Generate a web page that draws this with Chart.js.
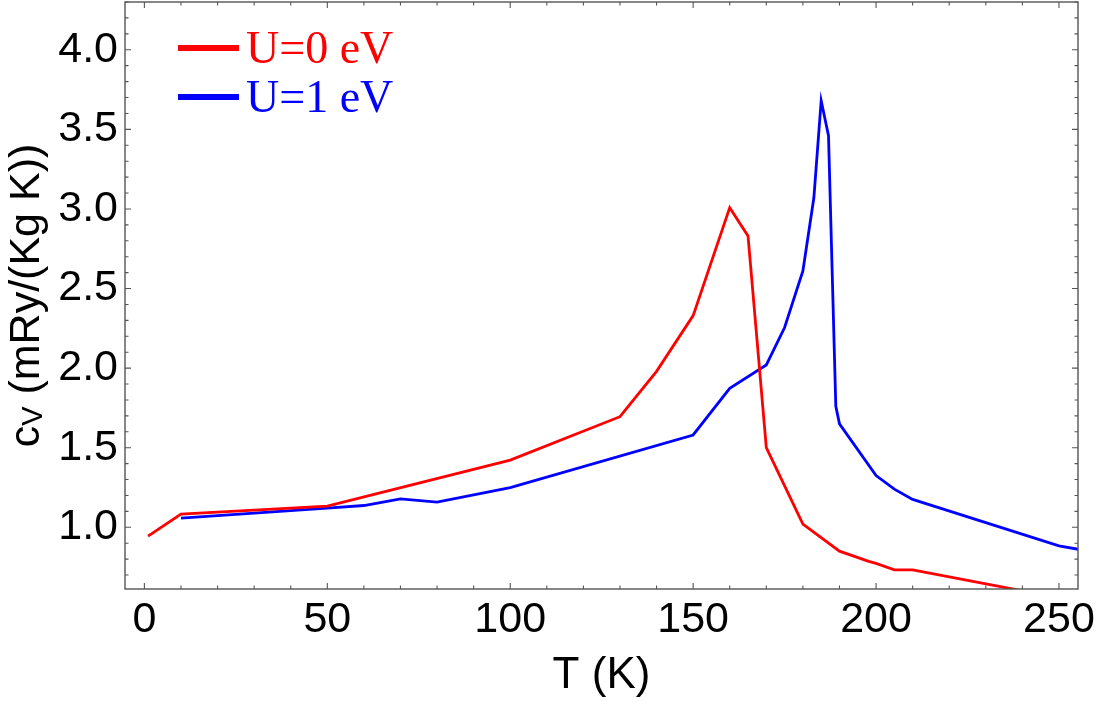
<!DOCTYPE html>
<html>
<head>
<meta charset="utf-8">
<script src="https://cdn.jsdelivr.net/npm/chart.js@4.4.1/dist/chart.umd.min.js"></script>
<style>
  html, body { margin: 0; padding: 0; background: #fff; }
  #wrap { width: 1097px; height: 702px; }
</style>
</head>
<body>
<div id="wrap"><canvas id="myChart"></canvas></div>
<script>
// U = 0 eV
const tempU0 = [1, 10, 50, 100, 130, 140, 150, 160, 165, 170, 180, 190, 198, 200, 205, 210, 250];
const cvU0 = [0.945, 1.083, 1.133, 1.422, 1.695, 1.98, 2.33, 3.008, 2.83, 1.50, 1.02, 0.85, 0.786, 0.773, 0.733, 0.733, 0.557];

// U = 1 eV
const tempU1 = [10, 50, 60, 70, 80, 100, 150, 160, 170, 175, 180, 183, 185, 187, 189, 190, 200, 205, 210, 250, 260];
const cvU1 = [1.058, 1.12, 1.137, 1.178, 1.158, 1.25, 1.58, 1.873, 2.02, 2.255, 2.61, 3.07, 3.68, 3.46, 1.76, 1.65, 1.325, 1.24, 1.175, 0.883, 0.843];

const seriesLabels = ["U=0 eV", "U=1 eV"];
const seriesColors = ["#ff0000", "#0000ff"];

const xMajor = 50, xMinor = 10;
const yMajor = 0.5, yMinor = 0.1;

const SANS = "'Liberation Sans', Arial, sans-serif";
const SERIF = "'Liberation Serif', 'Times New Roman', serif";

function pts(xs, ys) {
  return xs.map((x, i) => ({x: x, y: ys[i]}));
}

function isMult(v, step) {
  const r = v / step;
  return Math.abs(r - Math.round(r)) < 1e-6;
}

function noPad(s) {
  s.paddingLeft = 0; s.paddingRight = 0;
  s.paddingTop = 0; s.paddingBottom = 0;
}

// frame, inward ticks, y title with subscript, legend inside the plot
const framePlugin = {
  id: "frame",
  afterDraw(chart) {
    const {ctx, chartArea: a, scales} = chart;
    ctx.save();
    ctx.strokeStyle = "#555";
    ctx.lineWidth = 1.4;
    ctx.strokeRect(a.left, a.top, a.right - a.left, a.bottom - a.top);

    ctx.lineWidth = 1.1;
    ctx.beginPath();
    scales.x.ticks.forEach(t => {
      if (!isMult(t.value, xMinor)) return;
      const px = scales.x.getPixelForValue(t.value);
      if (px < a.left || px > a.right) return;
      const len = isMult(t.value, xMajor) ? 6 : 3.5;
      ctx.moveTo(px, a.bottom); ctx.lineTo(px, a.bottom - len);
      ctx.moveTo(px, a.top); ctx.lineTo(px, a.top + len);
    });
    scales.y.ticks.forEach(t => {
      if (!isMult(t.value, yMinor)) return;
      const py = scales.y.getPixelForValue(t.value);
      if (py < a.top || py > a.bottom) return;
      const len = isMult(t.value, yMajor) ? 6 : 3.5;
      ctx.moveTo(a.left, py); ctx.lineTo(a.left + len, py);
      ctx.moveTo(a.right, py); ctx.lineTo(a.right - len, py);
    });
    ctx.stroke();

    // y axis title: c_V (mRy/(Kg K))
    const mid = (a.top + a.bottom) / 2;
    ctx.translate(39, mid);
    ctx.rotate(-Math.PI / 2);
    ctx.fillStyle = "#000";
    ctx.textBaseline = "alphabetic";
    ctx.textAlign = "left";
    const big = "43px " + SANS, small = "29px " + SANS;
    ctx.font = big;
    const w1 = ctx.measureText("c").width;
    const w3 = ctx.measureText(" (mRy/(Kg K))").width;
    ctx.font = small;
    const w2 = ctx.measureText("V").width;
    let x0 = -(w1 + w2 + w3) / 2;
    ctx.font = big;
    ctx.fillText("c", x0, 0);
    ctx.font = small;
    ctx.fillText("V", x0 + w1, 3);
    ctx.font = big;
    ctx.fillText(" (mRy/(Kg K))", x0 + w1 + w2, 0);
    ctx.setTransform(1, 0, 0, 1, 0, 0);
    ctx.restore();

    // legend
    ctx.save();
    ctx.font = "46px " + SERIF;
    ctx.textBaseline = "alphabetic";
    chart.data.datasets.forEach((ds, i) => {
      const y = 48 + i * 49;
      ctx.strokeStyle = ds.borderColor;
      ctx.lineWidth = 6;
      ctx.beginPath();
      ctx.moveTo(178, y); ctx.lineTo(239, y);
      ctx.stroke();
      ctx.fillStyle = ds.borderColor;
      ctx.fillText(ds.label, 246, y + 15);
    });
    ctx.restore();
  }
};

const ctx = document.getElementById("myChart");

new Chart(ctx, {
  type: "line",
  data: {
    datasets: [
      {label: seriesLabels[0], data: pts(tempU0, cvU0), borderColor: seriesColors[0]},
      {label: seriesLabels[1], data: pts(tempU1, cvU1), borderColor: seriesColors[1]},
    ],
  },
  options: {
    responsive: true,
    maintainAspectRatio: false,
    animation: false,
    devicePixelRatio: 1,
    layout: {padding: {top: 2, right: 19, left: 0, bottom: 0}},
    elements: {
      line: {borderWidth: 2.8, tension: 0},
      point: {radius: 0},
    },
    datasets: {line: {clip: 0}},
    plugins: {
      legend: {display: false},
      tooltip: {enabled: false},
    },
    scales: {
      x: {
        type: "linear",
        min: -5.3,
        max: 255.2,
        grid: {display: false, drawTicks: false},
        border: {display: false},
        ticks: {
          stepSize: xMinor,
          includeBounds: false,
          autoSkip: false,
          maxRotation: 0,
          padding: 5,
          color: "#000",
          font: {family: SANS, size: 43},
          callback: v => isMult(v, xMajor) ? String(Math.round(v)) : "",
        },
        title: {
          display: true,
          text: "T (K)",
          color: "#000",
          font: {family: SANS, size: 44},
          padding: {top: 0, bottom: 0},
        },
        afterFit: s => { s.height = 113; noPad(s); },
      },
      y: {
        type: "linear",
        min: 0.6125,
        max: 4.30,
        grid: {display: false, drawTicks: false},
        border: {display: false},
        ticks: {
          stepSize: yMinor,
          includeBounds: false,
          autoSkip: false,
          padding: 7,
          color: "#000",
          font: {family: SANS, size: 43},
          callback: v => isMult(v, yMajor) ? v.toFixed(1) : "",
        },
        afterFit: s => { s.width = 125; noPad(s); },
      },
    },
  },
  plugins: [framePlugin],
});
</script>
</body>
</html>
